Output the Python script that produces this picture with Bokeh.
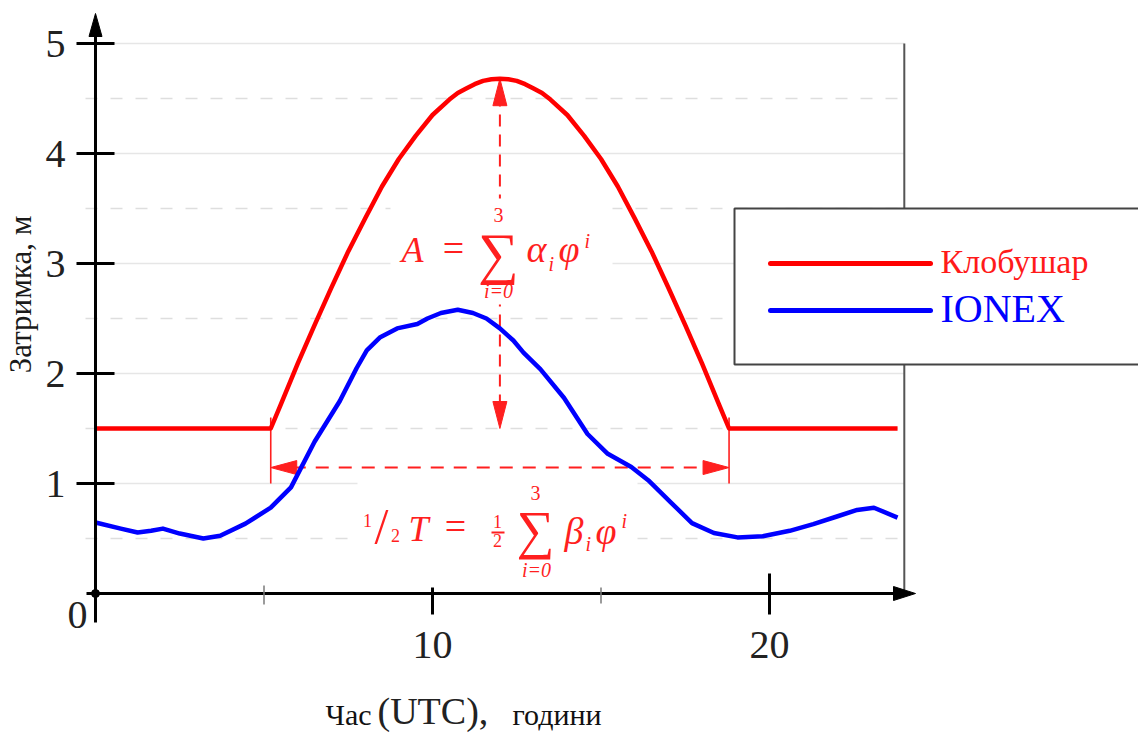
from math import pi
from bokeh.plotting import figure
from bokeh.models import Range1d, Grid
from bokeh.core.properties import value
from bokeh.embed import file_html
from bokeh.resources import INLINE

# ---------------- data ----------------
hours_red = [0.0, 5.2, 5.5, 6.0, 6.5, 7.0, 7.5, 8.0, 8.5, 9.0, 9.5, 10.0, 10.5, 10.75, 11.0,
             11.25, 11.5, 11.75, 12.0, 12.25, 12.5, 12.75, 13.0, 13.25, 13.5, 14.0, 14.5,
             15.0, 15.5, 16.0, 16.5, 17.0, 17.5, 18.0, 18.5, 18.8, 23.8]
klobuchar = [1.5, 1.5, 1.72, 2.09, 2.44, 2.78, 3.11, 3.41, 3.70, 3.95, 4.16, 4.35, 4.49, 4.55,
             4.59, 4.63, 4.66, 4.675, 4.68, 4.675, 4.66, 4.63, 4.59, 4.55, 4.49, 4.35, 4.16,
             3.95, 3.70, 3.41, 3.11, 2.78, 2.44, 2.09, 1.72, 1.5, 1.5]

hours_blue = [0, 0.75, 1.25, 1.65, 2.0, 2.5, 3.2, 3.7, 4.45, 5.2,
              5.8, 6.5, 7.25, 7.75, 8.05, 8.45, 8.95, 9.55, 9.85, 10.25,
              10.75, 11.2, 11.6, 12.0, 12.4, 12.7, 13.2, 13.9, 14.6, 15.2,
              15.9, 16.4, 17.1, 17.7, 18.35, 19.05, 19.8, 20.6, 21.3, 22.0,
              22.6, 23.1, 23.8]
ionex = [0.645, 0.59, 0.555, 0.57, 0.59, 0.545, 0.50, 0.525, 0.635, 0.78,
         0.965, 1.38, 1.75, 2.05, 2.21, 2.33, 2.41, 2.45, 2.50, 2.55,
         2.58, 2.55, 2.50, 2.41, 2.30, 2.19, 2.04, 1.78, 1.45, 1.27,
         1.15, 1.03, 0.82, 0.64, 0.55, 0.51, 0.52, 0.57, 0.63, 0.70,
         0.76, 0.78, 0.69]

series_names = ["Клобушар", "IONEX"]
series_colors = ["#ff0000", "#0000ff"]

x_major_ticks = [10, 20]
x_minor_ticks = [5, 15]
y_ticks = [1, 2, 3, 4, 5]
y_half = [0.5, 1.5, 2.5, 3.5, 4.5]
x_max = 24

peak_hour = 12.0
peak_value = 4.68
night_level = 1.5
half_start = 5.2
half_end = 18.8
half_arrow_level = 1.145

# ---------------- layout helpers (pixel -> data) ----------------
W, H = 1138, 735
X0, SX = 95.0, 33.7
Y0, SY = 593.0, 110.0
K = 0.38  # baseline correction of the svg text renderer (fraction of font size)


def dx(px):
    return (px - X0) / SX


def dy(py):
    return (Y0 - py) / SY


p = figure(width=W, height=H, x_range=Range1d(dx(0), dx(W)), y_range=Range1d(dy(H), dy(0)),
           x_axis_location=None, y_axis_location=None, toolbar_location=None,
           output_backend="svg", min_border=0, outline_line_color=None,
           background_fill_color="white", border_fill_color="white")
for r in list(p.center):
    if isinstance(r, Grid):
        r.visible = False

RED = "#ff1f1f"
SERIF = "Liberation Serif"


def txt(px, py, s, size, color="black", align="left", style="normal", font=SERIF):
    # py is the wanted baseline in pixels
    p.text(x=[dx(px)], y=[dy(py - K * size)], text=[s], text_font=value(font),
           text_font_size=f"{size}px", text_color=color, text_align=align,
           text_baseline="alphabetic", text_font_style=style)


def head(tx, ty, direction, length_px, width_px, color):
    lx, ly = length_px / SX, length_px / SY
    wx, wy = width_px / 2 / SX, width_px / 2 / SY
    if direction == "up":
        xs, ys = [tx, tx - wx, tx + wx], [ty, ty - ly, ty - ly]
    elif direction == "down":
        xs, ys = [tx, tx - wx, tx + wx], [ty, ty + ly, ty + ly]
    elif direction == "left":
        xs, ys = [tx, tx + lx, tx + lx], [ty, ty + wy, ty - wy]
    else:
        xs, ys = [tx, tx - lx, tx - lx], [ty, ty + wy, ty - wy]
    p.patch(xs, ys, fill_color=color, line_color=color, line_width=1)


# ---------------- grid ----------------
p.segment(x0=[0] * len(y_ticks), y0=y_ticks, x1=[x_max] * len(y_ticks), y1=y_ticks,
          line_color="#e6e6e6", line_width=1.6)
p.segment(x0=[dx(85)] * len(y_half), y0=y_half, x1=[x_max] * len(y_half), y1=y_half,
          line_color="#dedede", line_width=1.6, line_dash="12 13")

# right border
p.segment(x0=[x_max], y0=[0], x1=[x_max], y1=[y_ticks[-1]], line_color="#555555", line_width=2)

# ---------------- annotations (arrows) ----------------
p.segment(x0=[peak_hour], y0=[night_level + 22 / SY], x1=[peak_hour], y1=[peak_value - 22 / SY],
          line_color=RED, line_width=2, line_dash="12 8")
head(peak_hour, peak_value, "up", 27, 14, RED)
head(peak_hour, night_level, "down", 27, 14, RED)

# white boxes behind the formulas
p.quad(left=[dx(390), dx(357)], right=[dx(612), dx(637)],
       top=[dy(198), dy(478)], bottom=[dy(304), dy(585)],
       fill_color="white", line_color=None)

p.segment(x0=[half_start + 22 / SX], y0=[half_arrow_level], x1=[half_end - 22 / SX],
          y1=[half_arrow_level], line_color=RED, line_width=2, line_dash="13 10")
head(half_start, half_arrow_level, "left", 26, 14, RED)
head(half_end, half_arrow_level, "right", 26, 14, RED)
p.segment(x0=[half_start, half_end], y0=[1.0, 1.0], x1=[half_start, half_end],
          y1=[night_level + 0.1, night_level + 0.1], line_color=RED, line_width=1.6)

# ---------------- series ----------------
p.line(hours_blue, ionex, line_color=series_colors[1], line_width=4.5, line_join="round")
p.line(hours_red, klobuchar, line_color=series_colors[0], line_width=4.5, line_join="round")

# ---------------- axes ----------------
p.segment(x0=[0], y0=[dy(622)], x1=[0], y1=[dy(30)], line_color="black", line_width=3)
head(0, dy(13), "up", 23, 13, "black")
p.segment(x0=[dx(86)], y0=[0], x1=[dx(898)], y1=[0], line_color="black", line_width=3)
head(dx(915), 0, "right", 22, 14, "black")
p.scatter([0], [0], size=8, color="black")

p.segment(x0=[dx(76)] * len(y_ticks), y0=y_ticks, x1=[dx(114)] * len(y_ticks), y1=y_ticks,
          line_color="black", line_width=3)
p.segment(x0=x_major_ticks, y0=[dy(587), dy(573)], x1=x_major_ticks, y1=[dy(614), dy(614)],
          line_color="black", line_width=3)
p.segment(x0=x_minor_ticks, y0=[dy(585), dy(587)], x1=x_minor_ticks, y1=[dy(604), dy(603)],
          line_color="#7a7a7a", line_width=1.5)

TICK_SIZE = 40
p.text(x=[dx(55)] * len(y_ticks), y=[t - (16 - K * TICK_SIZE) / SY for t in y_ticks],
       text=[str(t) for t in y_ticks],
       text_font=value(SERIF), text_font_size=f"{TICK_SIZE}px", text_color="#222222",
       text_align="center", text_baseline="alphabetic")
p.text(x=x_major_ticks, y=[dy(660 - K * TICK_SIZE)] * len(x_major_ticks),
       text=[str(t) for t in x_major_ticks],
       text_font=value(SERIF), text_font_size=f"{TICK_SIZE}px", text_color="#222222",
       text_align="center", text_baseline="alphabetic")
txt(77, 630, "0", TICK_SIZE, color="#222222", align="center")

# axis titles
p.text(x=[dx(20)], y=[dy(294)], text=["Затримка, м"], text_font=value(SERIF),
       text_font_size="31px", text_color="#1a1a1a", text_align="center",
       text_baseline="middle", angle=pi / 2)
txt(325, 725, "Час", 30, color="#111111")
txt(377, 725, "(UTC),", 38, color="#222222")
txt(512, 725, "години", 30, color="#111111")

# ---------------- formulas ----------------
# A = sum alpha_i phi^i
txt(401, 263, "A", 36, RED, style="italic")
txt(453, 262, "=", 38, RED, align="center")
txt(498, 275, "∑", 57, RED, align="center")
txt(498, 222, "3", 20, RED, align="center")
txt(498, 298, "i=0", 20, RED, align="center", style="italic")
txt(526, 263, "α", 38, RED, style="italic")
txt(548, 271, "i", 20, RED, style="italic")
txt(558, 263, "φ", 38, RED, style="italic")
txt(584, 248, "i", 20, RED, style="italic")

# 1/2 T = 1/2 sum beta_i phi^i
txt(367, 527, "1", 18, RED, align="center")
txt(381, 544, "/", 50, RED, align="center")
txt(395, 542, "2", 18, RED, align="center")
txt(408, 542, "T", 36, RED, style="italic")
txt(455, 540, "=", 38, RED, align="center")
txt(497, 528, "1", 18, RED, align="center")
p.segment(x0=[dx(491)], y0=[dy(532)], x1=[dx(504)], y1=[dy(532)], line_color=RED, line_width=2)
txt(497, 547, "2", 18, RED, align="center")
txt(535, 550, "∑", 53, RED, align="center")
txt(535, 500, "3", 20, RED, align="center")
txt(536, 577, "i=0", 20, RED, align="center", style="italic")
txt(564, 545, "β", 38, RED, style="italic")
txt(585, 551, "i", 20, RED, style="italic")
txt(595, 545, "φ", 38, RED, style="italic")
txt(621, 528, "i", 20, RED, style="italic")

# ---------------- legend ----------------
p.quad(left=[dx(734)], right=[dx(1150)], top=[dy(208)], bottom=[dy(364)],
       fill_color="white", line_color="#444444", line_width=2)
leg_y = [dy(263), dy(310)]
p.segment(x0=[dx(770)] * 2, y0=leg_y, x1=[dx(930)] * 2, y1=leg_y,
          line_color=series_colors, line_width=5, line_cap="round")
txt(940, 274, series_names[0], 34, "#ff1a1a")
txt(940, 323, series_names[1], 40, series_colors[1])

open("out.html", "w").write(file_html(p, INLINE))
